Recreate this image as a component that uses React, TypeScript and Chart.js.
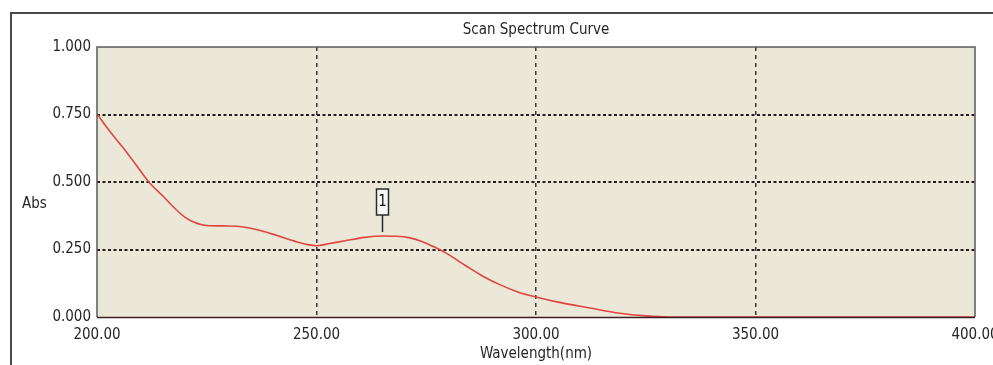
import React, { useEffect, useRef } from "react";
import { Chart, registerables } from "chart.js";

Chart.register(...registerables);

const wavelengths = [
  200, 203, 206, 209, 212, 215, 218, 220, 222, 225, 230, 233, 236, 240, 245, 248,
  250, 253, 257, 261, 265, 268, 271, 274, 277, 280, 284, 288, 292, 296, 300, 305,
  310, 315, 320, 325, 330, 400,
];
const absorbance = [
  0.752, 0.686, 0.626, 0.561, 0.496, 0.448, 0.398, 0.37, 0.352, 0.339, 0.337, 0.334,
  0.325, 0.307, 0.281, 0.268, 0.264, 0.272, 0.284, 0.295, 0.3, 0.299, 0.294, 0.28,
  0.258, 0.232, 0.19, 0.15, 0.118, 0.092, 0.074, 0.055, 0.04, 0.025, 0.012, 0.004,
  0, 0,
];
const xTicks = [200, 250, 300, 350, 400];
const yTicks = [0, 0.25, 0.5, 0.75, 1.0];
const peakLabels = ["1"];
const peakWavelengths = [265];
const peakValues = [0.3];

const chartTitle = "Scan Spectrum Curve";
const xTitle = "Wavelength(nm)";
const yTitle = "Abs";

const FONT = "'Liberation Sans Narrow', 'Arial Narrow', 'DejaVu Sans Condensed', 'Liberation Sans', Arial, sans-serif";
const TEXT = "#262626";

const decorPlugin = {
  id: "decor",
  beforeDraw(chart: any) {
    const ctx = chart.ctx;
    const { chartArea } = chart;
    ctx.save();
    ctx.fillStyle = "#ffffff";
    ctx.fillRect(0, 0, chart.width, chart.height);
    // outer frame
    ctx.strokeStyle = "#4a4a4a";
    ctx.lineWidth = 2;
    ctx.beginPath();
    ctx.moveTo(11, chart.height + 2);
    ctx.lineTo(11, 13);
    ctx.lineTo(chart.width + 2, 13);
    ctx.stroke();
    // plot background
    ctx.fillStyle = "#ebe8d8";
    ctx.fillRect(chartArea.left, chartArea.top, chartArea.right - chartArea.left, chartArea.bottom - chartArea.top);
    // title
    ctx.fillStyle = TEXT;
    ctx.font = `15px ${FONT}`;
    ctx.textAlign = "center";
    ctx.textBaseline = "middle";
    ctx.fillText(chartTitle, (chartArea.left + chartArea.right) / 2, 30);
    // y title
    ctx.textAlign = "left";
    ctx.fillText(yTitle, 22, 204);
    ctx.restore();
  },
  afterDatasetsDraw(chart: any) {
    const ctx = chart.ctx;
    const { chartArea } = chart;
    const xs = chart.scales.x;
    const ys = chart.scales.y;
    ctx.save();
    // plot border
    ctx.lineWidth = 1.5;
    ctx.strokeStyle = "#5a5a5a";
    ctx.beginPath();
    ctx.moveTo(chartArea.left, chartArea.bottom);
    ctx.lineTo(chartArea.left, chartArea.top);
    ctx.lineTo(chartArea.right, chartArea.top);
    ctx.lineTo(chartArea.right, chartArea.bottom);
    ctx.stroke();
    ctx.lineWidth = 1.5;
    ctx.strokeStyle = "#3a2020";
    ctx.beginPath();
    ctx.moveTo(chartArea.left, chartArea.bottom + 0.5);
    ctx.lineTo(chartArea.right, chartArea.bottom + 0.5);
    ctx.stroke();
    // peak labels
    peakLabels.forEach((lab, i) => {
      const px = Math.round(xs.getPixelForValue(peakWavelengths[i])) + 0.5;
      const py = ys.getPixelForValue(peakValues[i]);
      ctx.strokeStyle = "#2a2a2a";
      ctx.lineWidth = 1.5;
      ctx.beginPath();
      ctx.moveTo(px, py - 4);
      ctx.lineTo(px, py - 21);
      ctx.stroke();
      ctx.fillStyle = "#f6f6f2";
      ctx.fillRect(px - 6, py - 47, 12, 26);
      ctx.strokeRect(px - 6, py - 47, 12, 26);
      ctx.fillStyle = "#111111";
      ctx.font = `15px ${FONT}`;
      ctx.textAlign = "center";
      ctx.textBaseline = "middle";
      ctx.fillText(lab, px, py - 34);
    });
    ctx.restore();
  },
};

export default function App() {
  const ref = useRef<HTMLCanvasElement | null>(null);
  useEffect(() => {
    if (!ref.current) return;
    const chart = new Chart(ref.current, {
      type: "line",
      data: {
        datasets: [
          {
            label: "Abs",
            data: wavelengths.map((w, i) => ({ x: w, y: absorbance[i] })),
            borderColor: "#e0453f",
            borderWidth: 1.6,
            pointRadius: 0,
            cubicInterpolationMode: "monotone",
            fill: false,
          },
        ],
      },
      options: {
        responsive: false,
        animation: false,
        events: [],
        layout: { padding: { top: 47, right: 18, left: 0, bottom: 0 } },
        plugins: {
          legend: { display: false },
          tooltip: { enabled: false },
          title: { display: false },
        },
        scales: {
          x: {
            type: "linear",
            min: 200,
            max: 400,
            afterBuildTicks: (s: any) => {
              s.ticks = xTicks.map((v) => ({ value: v }));
            },
            afterFit: (s: any) => {
              s.height = 48;
              s.paddingLeft = 0;
              s.paddingRight = 0;
            },
            ticks: {
              color: TEXT,
              font: { family: FONT, size: 15 },
              padding: 9,
              maxRotation: 0,
              callback: (v: any) => Number(v).toFixed(2),
            },
            grid: {
              drawTicks: false,
              color: (c: any) =>
                c.tick && (c.tick.value === 200 || c.tick.value === 400) ? "rgba(0,0,0,0)" : "#3a3a3a",
              lineWidth: 1.5,
            },
            border: { display: false, dash: [4, 4] },
            title: {
              display: true,
              text: xTitle,
              color: TEXT,
              font: { family: FONT, size: 15 },
              padding: { top: 0, bottom: 2 },
            },
          },
          y: {
            type: "linear",
            min: 0,
            max: 1,
            afterBuildTicks: (s: any) => {
              s.ticks = yTicks.map((v) => ({ value: v }));
            },
            afterFit: (s: any) => {
              s.width = 97;
            },
            ticks: {
              color: TEXT,
              font: { family: FONT, size: 15 },
              padding: 6,
              callback: (v: any) => Number(v).toFixed(3),
            },
            grid: {
              drawTicks: false,
              color: (c: any) =>
                c.tick && (c.tick.value === 0 || c.tick.value === 1) ? "rgba(0,0,0,0)" : "#1e1e1e",
              lineWidth: 2,
            },
            border: { display: false, dash: [3, 2.5] },
          },
        },
      },
      plugins: [decorPlugin],
    } as any);
    return () => chart.destroy();
  }, []);
  return (
    <div style={{ position: "absolute", left: 0, top: 0, width: 993, height: 365, background: "#fff" }}>
      <canvas ref={ref} width={993} height={365} style={{ display: "block" }} />
    </div>
  );
}
